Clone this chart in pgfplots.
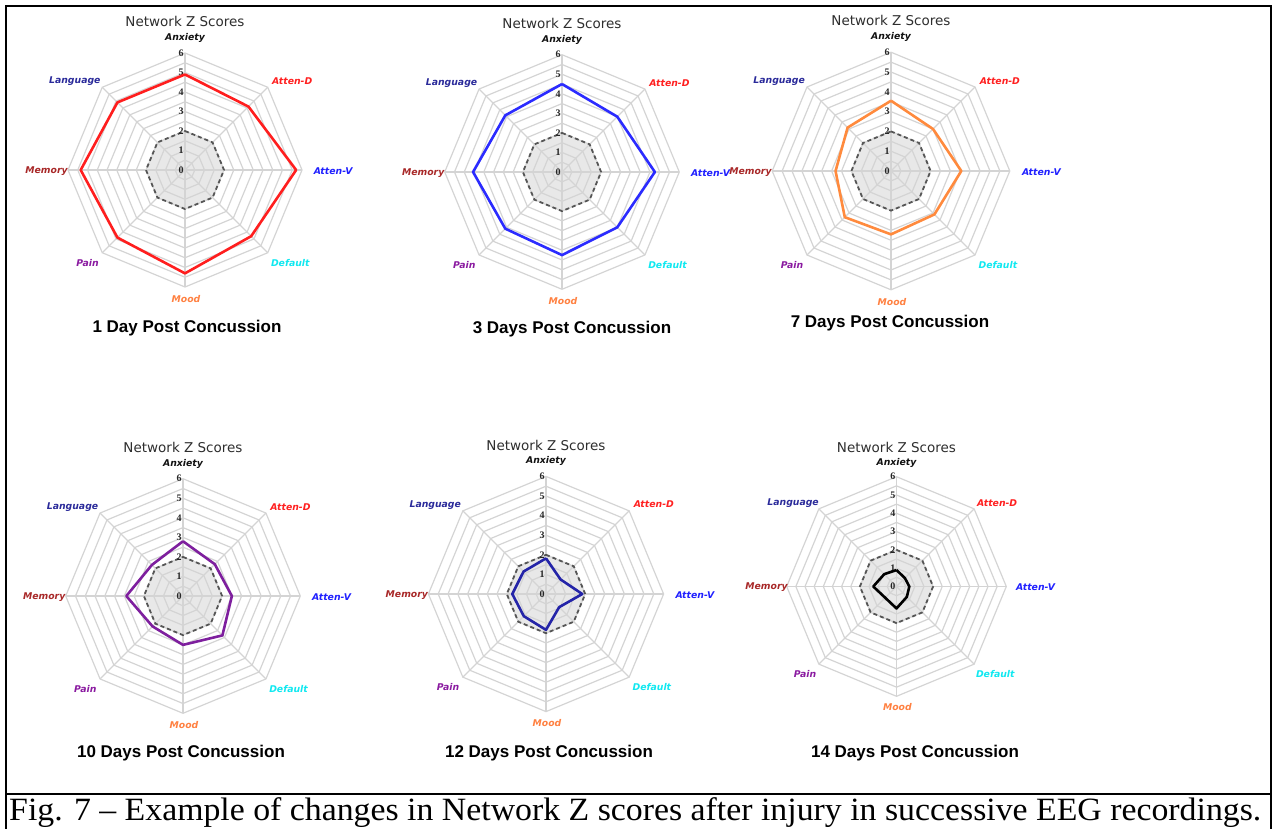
\documentclass[border=0pt]{standalone}
\usepackage{pgfplots}
\pgfplotsset{compat=1.18}
\usepackage{fontspec}
\setmainfont{Liberation Serif}
\newfontfamily\dvs{DejaVu Sans}
\newfontfamily\lsans{Liberation Sans}

\definecolor{ringgray}{HTML}{D4D4D4}
\definecolor{fillgray}{HTML}{E8E8E8}
\definecolor{dashgray}{HTML}{555555}
\definecolor{titlegray}{HTML}{2E2E2E}
\definecolor{cRed}{HTML}{FF1E1E}
\definecolor{cBlue}{HTML}{2B2BFF}
\definecolor{cOrange}{HTML}{FF8A3D}
\definecolor{cPurple}{HTML}{7E1F9E}
\definecolor{cNavy}{HTML}{2424A8}
\definecolor{lAnx}{HTML}{111111}
\definecolor{lAttD}{HTML}{FF2020}
\definecolor{lAttV}{HTML}{2020FF}
\definecolor{lDef}{HTML}{10E8F0}
\definecolor{lMood}{HTML}{FF8040}
\definecolor{lPain}{HTML}{8A1AA0}
\definecolor{lMem}{HTML}{A82828}
\definecolor{lLang}{HTML}{2A2A9A}

\newcommand{\labfont}{\dvs\bfseries\itshape\fontsize{9.3}{10}\selectfont}

% #1 cx (px), #2 cy (px), #3 unit (px), #4 line colour, #5 data
\newcommand{\radar}[5]{%
\begin{axis}[at={(#1pt,-#2pt)}, anchor=origin, x=#3pt, y=#3pt,
  xmin=-8, xmax=8, ymin=-8, ymax=8, hide axis, clip=false]
  % grey core
  \addplot[draw=none, fill=fillgray, data cs=polar] coordinates
    {(90,2) (45,2) (0,2) (-45,2) (-90,2) (-135,2) (180,2) (135,2) (90,2)};
  % rings
  \pgfplotsinvokeforeach{0.5,1,1.5,2,2.5,3,3.5,4,4.5,5,5.5,6}{%
    \addplot[ringgray, line width=1.2pt, data cs=polar] coordinates
      {(90,##1) (45,##1) (0,##1) (-45,##1) (-90,##1) (-135,##1) (180,##1) (135,##1) (90,##1)};}
  % spokes
  \pgfplotsinvokeforeach{90,45,0,-45,-90,-135,180,135}{%
    \addplot[ringgray, line width=1.2pt, data cs=polar] coordinates {(##1,0) (##1,6)};}
  % dashed reference
  \addplot[dashgray, line width=1.8pt, dash pattern=on 4pt off 3pt, data cs=polar] coordinates
    {(90,2) (45,2) (0,2) (-45,2) (-90,2) (-135,2) (180,2) (135,2) (90,2)};
  % tick numbers
  \pgfplotsinvokeforeach{0,1,2,3,4,5,6}{%
    \node[font=\bfseries\fontsize{10}{11}\selectfont, text=black!85, inner sep=0pt] at (axis cs:-0.2,##1) {##1};}
  % data
  \addplot[#4, line width=2.6pt, line join=round, data cs=polar] coordinates {#5};
  % labels
  \node[font=\dvs\fontsize{13.5}{15}\selectfont, text=titlegray] at (axis cs:0,7.6) {Network Z Scores};
  \node[font=\labfont, text=lAnx]  at (axis cs:0,6.77) {Anxiety};
  \node[font=\labfont, text=lAttD] at (axis cs:5.5,4.56) {Atten-D};
  \node[font=\labfont, text=lAttV] at (axis cs:7.6,-0.05) {Atten-V};
  \node[font=\labfont, text=lDef]  at (axis cs:5.4,-4.77) {Default};
  \node[font=\labfont, text=lMood] at (axis cs:0.05,-6.6) {Mood};
  \node[font=\labfont, text=lPain] at (axis cs:-5.0,-4.77) {Pain};
  \node[font=\labfont, text=lMem]  at (axis cs:-7.1,-0.05) {Memory};
  \node[font=\labfont, text=lLang] at (axis cs:-5.65,4.56) {Language};
\end{axis}}

\newcommand{\subt}[3]{\node[font=\lsans\bfseries\fontsize{17}{19}\selectfont, inner sep=0pt] at (#1pt,-#2pt) {#3};}

\begin{document}
\begin{tikzpicture}
\path[use as bounding box] (0pt,0pt) rectangle (1272pt,-828pt);

\radar{185}{170}{19.5}{cRed}{(90,4.9) (45,4.6) (0,5.7) (-45,4.8) (-90,5.3) (-135,4.9) (180,5.35) (135,4.9) (90,4.9)}
\radar{562}{172}{19.55}{cBlue}{(90,4.5) (45,4.0) (0,4.75) (-45,4.0) (-90,4.25) (-135,4.1) (180,4.55) (135,4.1) (90,4.5)}
\radar{891}{171}{19.8}{cOrange}{(90,3.55) (45,3.0) (0,3.55) (-45,3.1) (-90,3.2) (-135,3.3) (180,2.8) (135,3.1) (90,3.55)}
\radar{183}{596}{19.55}{cPurple}{(90,2.8) (45,2.3) (0,2.5) (-45,2.85) (-90,2.5) (-135,2.2) (180,2.9) (135,2.25) (90,2.8)}
\radar{546}{594}{19.6}{cNavy}{(90,1.82) (45,1.05) (0,1.85) (-45,0.95) (-90,1.83) (-135,1.6) (180,1.72) (135,1.62) (90,1.82)}
\radar{896.5}{586.5}{18.3}{black}{(90,0.9) (45,0.65) (0,0.7) (-45,0.8) (-90,1.2) (-135,0.87) (180,1.27) (135,0.95) (90,0.9)}

\subt{187}{328}{1 Day Post Concussion}
\subt{572}{329}{3 Days Post Concussion}
\subt{890}{323}{7 Days Post Concussion}
\subt{181}{753}{10 Days Post Concussion}
\subt{549}{753}{12 Days Post Concussion}
\subt{915}{753}{14 Days Post Concussion}

\draw[line width=2pt] (6pt,-840pt) -- (6pt,-6pt) -- (1271pt,-6pt) -- (1271pt,-840pt);
\draw[line width=2pt] (6pt,-794pt) -- (1271pt,-794pt);

\node[anchor=base west, inner sep=0pt, xscale=1.04] at (9pt,-820.5pt)
  {\fontsize{32.5}{35}\selectfont Fig. 7 -- Example of changes in Network Z scores after injury in successive EEG recordings.};
\end{tikzpicture}
\end{document}
